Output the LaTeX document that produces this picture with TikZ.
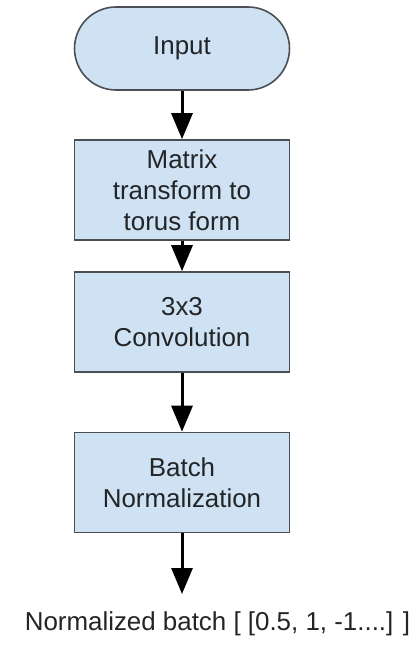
\documentclass[tikz,border=0pt]{standalone}
\usepackage{fontspec}
\setmainfont{Liberation Sans}
\usetikzlibrary{arrows.meta}
\definecolor{boxfill}{HTML}{CFE2F3}
\definecolor{boxline}{HTML}{4A4F55}
\definecolor{txt}{HTML}{222426}
\tikzset{
  flowbox/.style={draw=boxline, line width=1.6bp, fill=boxfill, text=txt,
    minimum width=215bp, minimum height=100bp, inner sep=0pt, align=center,
    font=\fontsize{26}{31}\selectfont},
  terminal/.style={flowbox, rounded corners=41.5bp, minimum height=83bp},
  arr/.style={line width=3bp, black, -{Triangle[length=26bp,width=21bp]}},
}
\begin{document}
\begin{tikzpicture}[x=1bp,y=-1bp]
  \useasboundingbox (0,0) rectangle (418,645);
  \node[terminal] (in) at (182,48.5) {Input};
  \node[flowbox] (mt) at (182,190) {Matrix\\transform to\\torus form};
  \node[flowbox] (cv) at (182,322) {3x3\\Convolution};
  \node[flowbox] (bn) at (182,482.5) {Batch\\Normalization};
  \coordinate (end) at (182,594);
  \node[text=txt, font=\fontsize{26}{31}\selectfont, inner sep=0pt] (out) at (217.5,624) {Normalized batch [ [0.5, 1, -1....] ]};
  \draw[arr] (in) -- (mt);
  \draw[arr] (mt) -- (cv);
  \draw[arr] (cv) -- (bn);
  \draw[arr] (bn) -- (end);
\end{tikzpicture}
\end{document}
